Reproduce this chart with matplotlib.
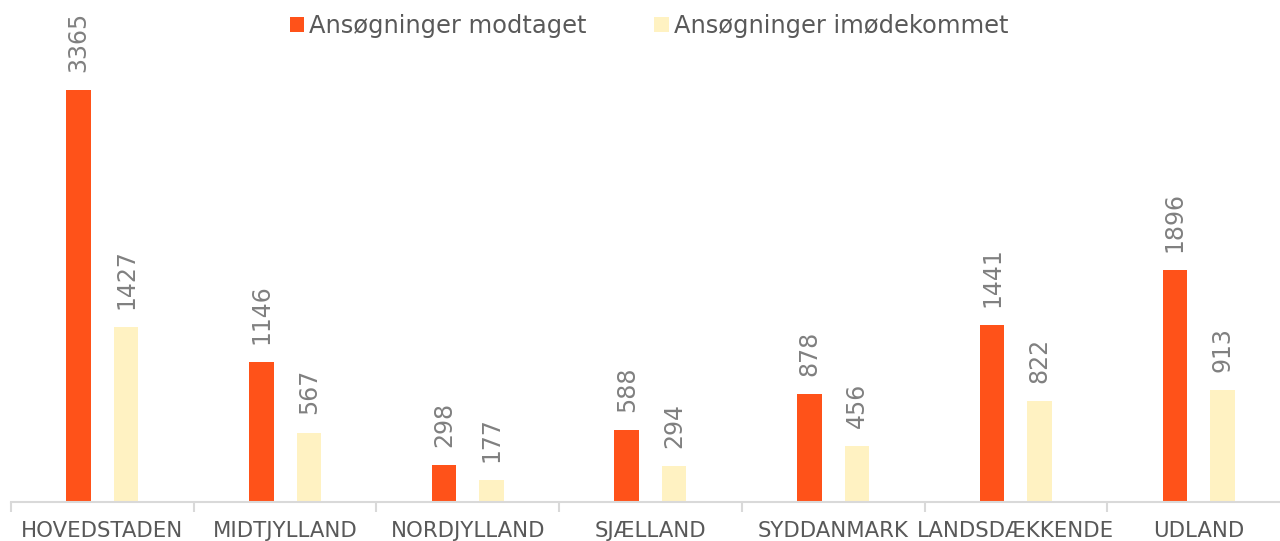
import matplotlib
matplotlib.use("Agg")
import matplotlib.pyplot as plt
import numpy as np

categories = ["HOVEDSTADEN", "MIDTJYLLAND", "NORDJYLLAND", "SJÆLLAND",
              "SYDDANMARK", "LANDSDÆKKENDE", "UDLAND"]
modtaget = [3365, 1146, 298, 588, 878, 1441, 1896]
imoedekommet = [1427, 567, 177, 294, 456, 822, 913]
series_names = ["Ansøgninger modtaget", "Ansøgninger imødekommet"]

RED = "#FF5219"
YELLOW = "#FFF2C2"
TXT = "#595959"
LBL = "#808080"

plt.rcParams['font.family'] = ['DejaVu Sans']
fig = plt.figure(figsize=(12.8, 5.41), dpi=100)
W, H = 1280, 541
ax = fig.add_axes([11 / W, 39 / H, 1 - 11 / W, 490 / H])

x = np.arange(len(categories))
w = 0.134
off = 0.13
b1 = ax.bar(x - off, modtaget, width=w, color=RED, label=series_names[0])
b2 = ax.bar(x + off, imoedekommet, width=w, color=YELLOW, label=series_names[1])

for bars, vals in ((b1, modtaget), (b2, imoedekommet)):
    for r, v in zip(bars, vals):
        ax.annotate(str(v), (r.get_x() + r.get_width() / 2, v),
                    xytext=(0, 13), textcoords="offset points",
                    rotation=90, ha="center", va="bottom",
                    fontsize=17, color=LBL)

for s in ["top", "right", "left"]:
    ax.spines[s].set_visible(False)
ax.spines["bottom"].set_color("#D9D9D9")
ax.spines["bottom"].set_linewidth(1.5)
ax.set_yticks([])
ax.set_xticks(x)
ax.set_xticklabels(categories, fontsize=15.3, color=TXT)
ax.tick_params(axis="x", which="major", length=0, pad=14)
ax.set_xticks(np.arange(len(categories) + 1) - 0.5, minor=True)
ax.tick_params(axis="x", which="minor", length=7, width=1.5, color="#D9D9D9", direction="out")

ax.set_ylim(0, 4000)
cat_px = 182.7
ax.set_xlim(-0.5, -0.5 + (W - 11) / cat_px)

leg = fig.legend(loc="center", bbox_to_anchor=(649 / W, 1 - 26 / H), ncol=2,
                 frameon=False, fontsize=17.4, handlelength=0.6, handleheight=0.6,
                 handletextpad=0.2, columnspacing=2.8, labelcolor=TXT)

fig.savefig("out.png", dpi=100)
